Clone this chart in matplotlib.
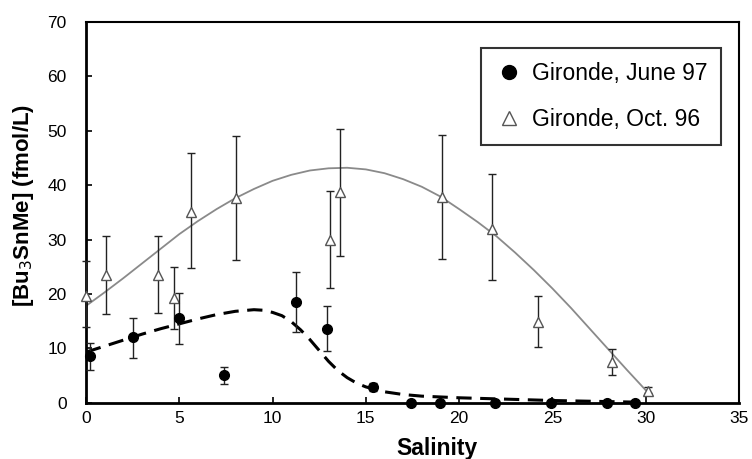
import matplotlib.pyplot as plt
from matplotlib.lines import Line2D

plt.rcParams['font.family'] = ['Liberation Sans', 'DejaVu Sans']

# Gironde, June 97 measurements
june_sal = [0.2, 2.5, 5.0, 7.4, 11.25, 12.9, 15.4, 17.4, 19.0, 21.9, 24.9, 27.95, 29.45]
june_val = [8.5, 12.0, 15.5, 5.0, 18.5, 13.5, 2.9, 0.0, 0.0, 0.0, 0.0, 0.0, 0.0]
june_lo = [6.0, 8.2, 10.8, 3.5, 13.0, 9.5, 2.2, 0.0, 0.0, 0.0, 0.0, 0.0, 0.0]
june_hi = [11.0, 15.6, 20.2, 6.5, 24.0, 17.7, 3.7, 0.0, 0.0, 0.0, 0.0, 0.0, 0.0]

# Gironde, Oct. 96 measurements
oct_sal = [0.0, 1.05, 3.85, 4.7, 5.6, 8.05, 13.1, 13.6, 19.1, 21.75, 24.2, 28.2, 30.1]
oct_val = [19.6, 23.4, 23.5, 19.3, 35.1, 37.6, 30.0, 38.7, 37.8, 32.0, 14.9, 7.5, 2.2]
oct_lo = [14.0, 16.4, 16.5, 13.5, 24.7, 26.3, 21.0, 27.0, 26.5, 22.5, 10.3, 5.0, 1.8]
oct_hi = [26.0, 30.7, 30.7, 25.0, 46.0, 49.0, 39.0, 50.4, 49.3, 42.0, 19.6, 9.8, 2.8]

# trend curves
june_fit_x = [0, 1, 2, 3, 4, 5, 6, 7, 8, 9, 9.5, 10, 10.5, 11, 11.5, 12, 12.5, 13,
              13.5, 14, 14.5, 15, 16, 17, 18, 20, 22, 25, 28, 29.5]
june_fit_y = [9.3, 10.4, 11.5, 12.6, 13.6, 14.5, 15.4, 16.2, 16.8, 17.1, 17.0, 16.6,
              16.0, 14.9, 13.4, 11.6, 9.6, 7.6, 5.9, 4.6, 3.6, 2.9, 2.0, 1.5, 1.2,
              0.9, 0.7, 0.4, 0.2, 0.1]
oct_fit_x = list(range(0, 31))
oct_fit_y = [17.8, 20.3, 22.9, 25.6, 28.3, 31.0, 33.4, 35.6, 37.6, 39.3, 40.8, 41.9,
             42.7, 43.1, 43.2, 42.9, 42.2, 41.1, 39.7, 37.9, 35.6, 33.2, 30.6, 27.6,
             24.4, 21.0, 17.4, 13.6, 9.8, 6.0, 2.3]

fig = plt.figure(figsize=(7.52, 4.59), dpi=100)
ax = fig.add_axes([0.1144, 0.1227, 0.8683, 0.8293])

ax.plot(oct_fit_x, oct_fit_y, color='#8a8a8a', lw=1.3, zorder=2)
ax.plot(june_fit_x, june_fit_y, color='black', lw=2.2, dashes=(5, 2.8), zorder=2)

june_err = [[v - l for v, l in zip(june_val, june_lo)], [h - v for v, h in zip(june_val, june_hi)]]
oct_err = [[v - l for v, l in zip(oct_val, oct_lo)], [h - v for v, h in zip(oct_val, oct_hi)]]

ax.errorbar(oct_sal, oct_val, yerr=oct_err, fmt='^', ms=7, mfc='white', mec='#555555',
            mew=1.0, ecolor='#222222', elinewidth=1.0, capsize=3, capthick=1.0,
            zorder=3, clip_on=False)
ax.errorbar(june_sal, june_val, yerr=june_err, fmt='o', ms=7, color='black',
            ecolor='#222222', elinewidth=1.0, capsize=3, capthick=1.0,
            zorder=4, clip_on=False)

ax.set_xlim(0, 35)
ax.set_ylim(0, 70)
ax.set_xticks(range(0, 36, 5))
ax.set_yticks(range(0, 71, 10))
ax.tick_params(direction='in', length=4, width=1.2, labelsize=12.5)
ax.tick_params(axis='y', pad=14)
ax.tick_params(axis='x', pad=6)
for side in ['left', 'bottom']:
    ax.spines[side].set_linewidth(2.0)
for side in ['top', 'right']:
    ax.spines[side].set_linewidth(1.5)

ax.set_xlabel('Salinity', fontsize=16.5, fontweight='bold')
ax.xaxis.set_label_coords(0.537, -0.09)
ax.set_ylabel('[Bu$_3$SnMe] (fmol/L)', fontsize=16, fontweight='bold')
ax.yaxis.set_label_coords(-0.077, 0.518)

legend_handles = [
    Line2D([], [], ls='none', marker='o', ms=10, color='black'),
    Line2D([], [], ls='none', marker='^', ms=10, mfc='white', mec='#555555', mew=1.0),
]
leg = ax.legend(legend_handles, ['Gironde, June 97', 'Gironde, Oct. 96'],
                loc='upper right', bbox_to_anchor=(0.99, 0.961), fontsize=16.5,
                frameon=True, fancybox=False, edgecolor='black', labelspacing=1.0,
                handletextpad=0.4, borderpad=0.6, handlelength=1.2)
leg.get_frame().set_linewidth(1.5)

plt.savefig('out.png', dpi=100)
